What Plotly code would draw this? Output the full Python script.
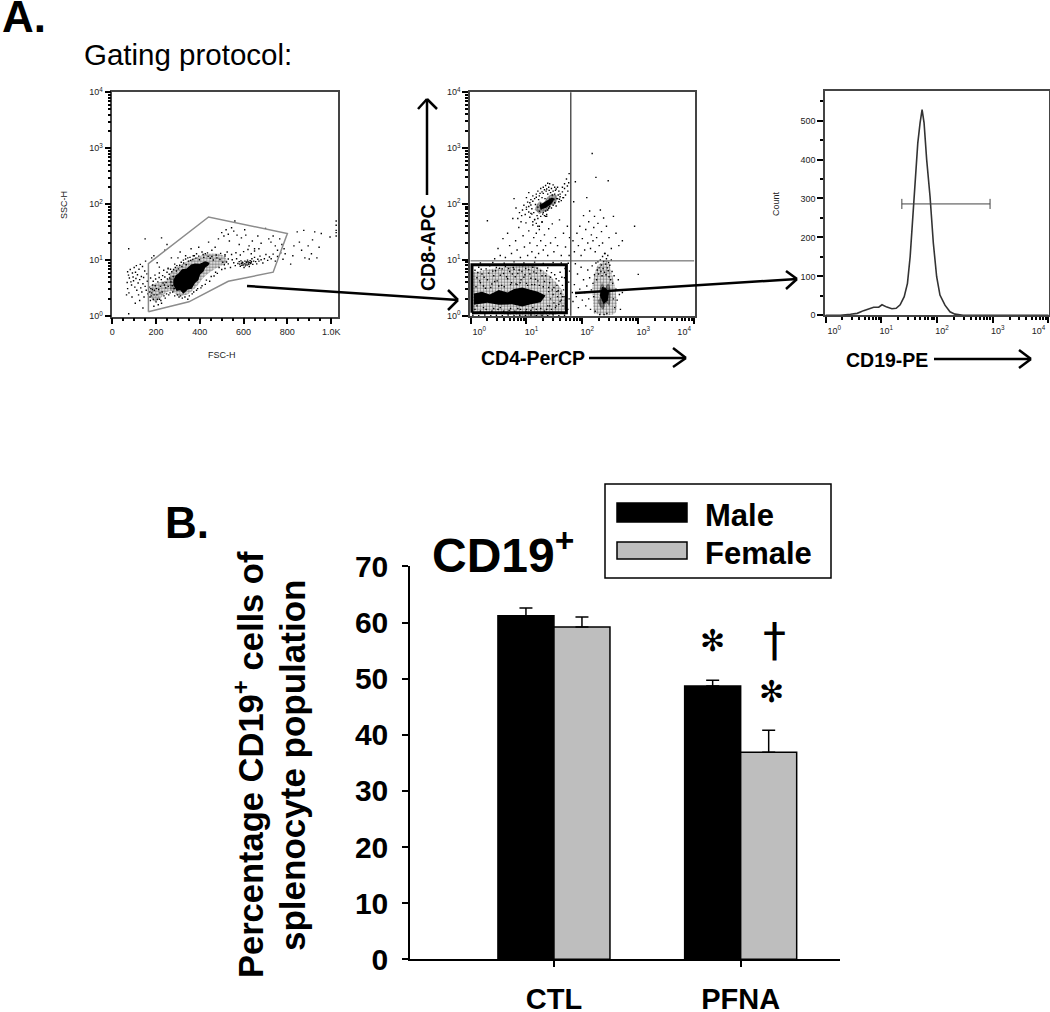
"""Gating protocol (A) and CD19+ percentages (B)."""

import plotly.graph_objects as go

W, H = 1050, 1012
FUENTE = "Liberation Sans"

# --- A, panel 1: FSC-H / SSC-H, events
GATE_FSC = [165, 165, 440, 800, 735, 530, 350, 165]
GATE_SSC = [1.2, 8.7, 59, 30, 6.1, 4.2, 1.8, 1.2]
CORE_FSC = [279, 290, 302, 318, 340, 360, 378, 400, 424, 445, 440, 425, 416, 402, 393, 378, 363, 345, 325, 310, 294, 279]
CORE_SSC = [4.4, 5.4, 5.8, 6.9, 7.1, 8.4, 8.7, 8.6, 9.6, 9.0, 8.1, 7.4, 6.2, 5.6, 4.4, 3.9, 3.1, 3.0, 2.5, 2.9, 2.8, 3.6]
HALO_FSC = [265, 265, 320, 380, 440, 500, 525, 470, 420, 380, 340, 300]
HALO_SSC = [3.0, 5.8, 8.5, 11, 13, 12.5, 9.5, 7.0, 5.0, 3.2, 2.4, 2.3]
BAND_FSC = [170, 200, 250, 290, 290, 250, 220, 195, 172]
BAND_SSC = [3.4, 3.9, 4.4, 5.4, 3.0, 2.7, 2.1, 1.8, 2.2]
FSC_SPARSE = [
    (70, 6.2), (74, 5.4), (78, 4.8), (82, 6.8), (85, 4.1), (88, 3.6), (92, 5.9), (95, 5.0),
    (97, 4.3), (100, 7.4), (103, 3.3), (106, 6.1), (108, 4.7), (110, 8.0), (112, 2.9),
    (115, 5.5), (118, 3.9), (120, 2.4), (122, 6.9), (125, 4.5), (128, 8.4), (130, 3.2),
    (133, 5.1), (135, 2.7), (138, 7.7), (140, 3.8), (143, 4.9), (145, 2.2), (148, 6.4),
    (150, 3.4), (152, 9.6), (155, 2.9), (158, 5.7), (160, 4.2), (162, 2.5), (70, 3.1),
    (65, 2.4), (68, 4.0), (76, 2.6), (90, 2.2), (105, 1.7), (125, 1.9), (75, 1.1), (75, 16),
    (140, 1.4), (150, 24), (180, 11), (190, 12), (205, 9), (215, 7.5), (225, 25), (240, 15),
    (250, 19), (255, 7), (270, 11), (285, 8.5), (300, 11), (310, 14), (325, 10), (335, 12),
    (345, 11), (360, 16), (370, 12), (385, 13), (395, 17), (410, 14), (425, 13), (440, 21),
    (455, 15), (470, 17), (485, 24), (500, 31), (510, 27), (520, 35), (530, 29), (535, 22),
    (545, 38), (555, 33), (560, 50), (570, 28), (580, 19), (590, 25), (605, 35), (610, 28),
    (625, 18), (640, 22), (650, 16), (665, 27), (680, 20), (700, 37), (715, 24), (725, 21),
    (735, 27), (745, 18), (755, 15), (765, 24), (775, 19), (785, 16), (790, 13), (815, 8.5),
    (825, 12), (830, 18), (845, 32), (855, 21), (865, 15), (875, 34), (880, 11), (895, 18),
    (900, 10.5), (910, 13), (915, 23), (925, 32), (935, 11), (945, 17), (955, 30), (995, 26),
    (1023, 27), (1023, 34), (1023, 42), (1023, 50), (1023, 31),
]
FSC_BAND = [
    (172, 2.2), (176, 3.1), (180, 2.6), (184, 3.6), (188, 2.0), (192, 2.9), (196, 3.5),
    (200, 1.8), (204, 2.4), (208, 4.1), (212, 3.0), (216, 2.0), (220, 3.4), (224, 4.5),
    (228, 2.7), (232, 3.9), (236, 2.3), (240, 5.0), (244, 3.2), (248, 2.5), (252, 4.6),
    (256, 3.4), (260, 5.6), (264, 2.6), (268, 4.1), (272, 6.2), (276, 2.7), (280, 6.8),
    (190, 1.5), (210, 1.6), (225, 1.7), (175, 4.8), (195, 5.4), (215, 5.9), (235, 6.6),
    (255, 7.2), (285, 2.3), (305, 2.2), (320, 2.1), (345, 2.0), (365, 2.5), (385, 2.9),
    (405, 3.2), (425, 3.7), (445, 4.2), (465, 5.2), (480, 5.8), (500, 6.8), (515, 7.1),
    (295, 8.0), (315, 9.2), (335, 10.5), (355, 11.2), (375, 12.0), (395, 11.8), (415, 12.6),
    (435, 13.5), (455, 11.6), (475, 12.4), (495, 13.2), (515, 11.8), (530, 10.5),
    (168, 3.3), (171, 2.7), (174, 1.9), (178, 2.3), (183, 3.0), (187, 4.2), (191, 2.4),
    (198, 4.6), (202, 3.1), (206, 2.0), (214, 4.9), (218, 2.6), (222, 1.9), (230, 5.3),
    (238, 3.6), (242, 2.1), (246, 4.0), (250, 6.1), (258, 2.4), (262, 4.8), (266, 6.9),
    (274, 3.5), (278, 5.1), (283, 3.1), (288, 7.4), (293, 6.4), (298, 2.4), (302, 7.0),
    (308, 8.1), (312, 2.3), (318, 7.7), (326, 8.9), (332, 2.2), (338, 8.3), (348, 9.6),
    (352, 2.3), (358, 9.9), (368, 10.3), (372, 2.7), (382, 10.9), (390, 3.1), (398, 10.2),
    (410, 3.5), (418, 11.2), (430, 4.4), (438, 11.7), (448, 10.8), (452, 5.1), (462, 10.1),
    (472, 6.1), (478, 11.0), (488, 7.4), (492, 10.3), (505, 9.2), (512, 8.3), (522, 9.3),
]
FSC_TAIL = [
    (530, 8.6), (540, 7.4), (548, 10.2), (555, 9.0), (562, 8.0), (568, 10.6), (574, 8.7),
    (580, 9.4), (585, 7.8), (590, 8.8), (595, 9.2), (598, 8.2), (602, 7.4), (606, 9.6),
    (610, 8.5), (614, 9.1), (618, 10.0), (622, 8.9), (626, 7.7), (630, 9.8), (634, 9.0),
    (638, 10.6), (642, 8.4), (646, 9.6), (650, 11.2), (655, 9.4), (660, 8.6), (665, 10.4),
    (670, 9.6), (675, 11.8), (680, 10.2), (688, 8.9), (695, 10.6), (702, 12.6), (710, 9.9),
    (718, 11.4), (726, 10.6), (735, 12.8), (745, 9.6), (755, 11.6), (770, 13.5), (780, 10.4),
    (515, 12.5), (525, 14.0), (545, 12.6), (565, 13.6), (585, 12.4), (600, 14.2), (620, 15.5),
    (635, 13.0), (650, 14.6), (670, 16.0), (582, 8.5), (588, 9.7), (592, 8.1), (596, 8.9),
    (604, 8.6), (608, 7.9), (612, 9.3), (616, 8.2), (620, 9.4), (624, 8.4), (628, 9.1),
    (632, 8.7), (636, 9.5),
]

# --- A, panel 2: CD4-PerCP / CD8-APC
QUAD_CD4 = 62
QUAD_CD8 = 9.6
RECT_CD4 = [1.06, 51.8, 51.8, 1.06, 1.06]
RECT_CD8 = [1.13, 1.13, 8.2, 8.2, 1.13]
LOW_CORE_CD4 = [1.15, 1.6, 2.2, 3.2, 4.6, 6, 8.4, 12, 16, 22, 20, 18, 12, 8.4, 5.5, 3.2, 2, 1.15]
LOW_CORE_CD8 = [2.5, 2.7, 2.4, 2.9, 2.6, 3.0, 3.2, 2.9, 2.7, 2.3, 2.0, 1.75, 1.6, 1.47, 1.6, 1.57, 1.7, 1.57]
LOW_HALO_CD4 = [1.1, 46, 46, 30, 15, 5, 1.1]
LOW_HALO_CD8 = [1.2, 1.2, 2.5, 4.5, 7.5, 7.5, 6]
RIGHT_CORE_CD4 = [225, 255, 290, 320, 300, 270, 235, 190, 210, 200]
RIGHT_CORE_CD8 = [4.0, 3.2, 3.8, 2.7, 1.5, 1.7, 1.3, 1.8, 2.2, 2.8]
RIGHT_DARK_CD4 = [225, 265, 300, 285, 240, 205]
RIGHT_DARK_CD8 = [3.3, 3.1, 2.6, 1.9, 1.6, 2.3]
RIGHT_HALO_CD4 = [160, 380, 400, 330, 280, 190, 150]
RIGHT_HALO_CD8 = [1.1, 1.1, 2.5, 6, 9.5, 8, 3]
CD8_CORE_CD4 = [14, 17, 20, 24, 30, 35, 33, 28, 24, 20, 17]
CD8_CORE_CD8 = [80, 110, 105, 135, 150, 140, 100, 95, 76, 72, 66]
CD8_DARK_CD4 = [17, 22, 28, 32, 28, 22, 18]
CD8_DARK_CD8 = [95, 110, 130, 125, 100, 85, 80]
CD4_LOW = [
    (1.2, 6.5), (1.3, 4.8), (1.4, 7.4), (1.5, 3.9), (1.6, 5.6), (1.7, 3.4), (1.9, 6.9),
    (2.0, 4.4), (2.2, 7.8), (2.4, 3.7), (2.6, 5.2), (2.8, 6.4), (3.0, 4.2), (3.3, 7.1),
    (3.6, 3.5), (3.9, 5.7), (4.2, 7.6), (4.6, 4.6), (5.0, 6.2), (5.4, 3.9), (5.8, 7.3),
    (6.3, 5.0), (6.8, 3.6), (7.4, 6.6), (8.0, 4.4), (8.7, 7.9), (9.4, 5.4), (10, 3.8),
    (11, 6.7), (12, 4.7), (13, 7.4), (14, 3.6), (15, 5.8), (16, 4.2), (18, 6.4), (20, 3.3),
    (22, 5.2), (24, 7.2), (26, 3.9), (28, 5.9), (31, 3.2), (34, 4.6), (37, 2.8), (40, 6.0),
    (44, 3.5), (47, 2.2), (49, 7.0), (42, 1.9), (38, 1.6), (33, 1.4), (28, 1.3), (24, 1.5),
    (21, 1.2), (45, 1.5), (48, 4.8), (36, 2.2), (30, 2.4), (25, 2.7), (1.2, 1.3), (1.5, 1.2),
    (1.9, 1.3), (2.4, 1.2), (3.1, 1.3), (3.9, 1.2), (4.9, 1.25), (6.2, 1.2), (7.8, 1.3),
    (9.8, 1.2), (12, 1.25), (15, 1.3), (1.1, 1.02), (1.4, 1.0), (1.8, 1.03), (2.3, 1.0),
    (2.9, 1.02), (3.7, 1.0), (4.7, 1.03), (6.0, 1.0), (7.6, 1.02), (9.6, 1.0), (12, 1.03),
    (15, 1.0), (19, 1.02), (24, 1.0), (30, 1.03), (38, 1.0), (48, 1.02), (57, 4.0), (58, 2.0),
    (55, 1.3), (59, 6.3), (56, 8.7), (1.5, 8.8), (2.5, 9.0), (4.0, 8.7), (6.0, 9.2), (9.0, 8.8),
    (14, 9.1), (20, 8.6), (30, 9.0), (42, 8.8),
    (1.25, 3.3), (1.35, 5.9), (1.45, 4.2), (1.55, 6.8), (1.75, 4.9), (1.85, 3.1), (2.1, 5.8),
    (2.3, 3.2), (2.5, 6.3), (2.7, 4.1), (2.9, 7.3), (3.2, 3.4), (3.4, 5.3), (3.7, 6.9),
    (4.0, 3.3), (4.4, 5.0), (4.8, 7.0), (5.2, 3.6), (5.6, 5.6), (6.0, 6.8), (6.5, 3.7),
    (7.0, 5.7), (7.7, 3.9), (8.3, 6.2), (9.0, 4.9), (9.7, 7.0), (10.5, 3.5), (11.5, 5.6),
    (12.5, 3.6), (13.5, 6.1), (14.5, 4.5), (15.5, 7.1), (17, 3.5), (19, 5.2), (21, 4.1),
    (23, 6.4), (25, 3.2), (27, 4.9), (29, 2.9), (32, 5.4), (35, 3.5), (38, 4.2), (41, 2.5),
    (43, 4.9), (46, 2.9), (40, 1.8), (35, 2.7), (31, 1.7), (27, 2.0), (34, 1.5), (44, 2.2),
    (26, 1.5), (23, 1.3), (18, 1.35), (13, 1.4), (10, 1.3), (7, 1.35), (5.2, 1.35), (3.4, 1.4),
    (2.6, 1.35), (1.7, 1.4), (1.3, 1.5),
]
CD4_UPPER = [
    (2, 50), (2.7, 10.5), (3.1, 16), (3.4, 12), (3.8, 24), (4.2, 11), (4.6, 30), (5.0, 18),
    (5.4, 13), (5.7, 55), (6.0, 125), (6.4, 22), (6.8, 15), (7.3, 38), (7.8, 11), (8.2, 62),
    (8.7, 27), (9.2, 17), (9.8, 46), (10, 80), (10.5, 12), (11, 33), (11.5, 20), (12, 68),
    (12.5, 14), (13, 42), (13.5, 25), (14, 53), (14.5, 11), (15, 30), (15.5, 18), (16, 40),
    (16.5, 13), (17, 35), (18, 22), (19, 47), (20, 15), (21, 28), (22, 18), (23, 60), (24, 12),
    (25, 36), (27, 20), (29, 44), (31, 14), (33, 25), (36, 18), (39, 52), (42, 12), (46, 30),
    (50, 17), (54, 40), (57, 240), (58, 350), (55, 170), (45, 130), (44, 200), (48, 230),
    (52, 280), (58, 12), (59, 25),
]
CD4_CD8_CLUSTER = [
    (8.5, 78), (9, 95), (9.5, 65), (10, 88), (10.5, 108), (11, 72), (11.5, 58), (12, 96),
    (12, 120), (12.5, 66), (13, 140), (13, 48), (14, 125), (14, 52), (15, 150), (15, 45),
    (16, 170), (16, 55), (17, 140), (17, 40), (18, 190), (18, 60), (19, 165), (19, 48),
    (20, 200), (20, 70), (21, 180), (21, 62), (22, 215), (22, 75), (23, 185), (23, 65),
    (24, 235), (24, 78), (25, 200), (26, 90), (26, 230), (28, 190), (28, 85), (30, 220),
    (30, 95), (32, 200), (32, 105), (34, 185), (34, 92), (36, 200), (36, 125), (38, 170),
    (38, 110), (40, 150), (40, 135), (42, 115), (44, 165), (46, 130), (48, 190), (50, 145),
    (54, 210), (10, 130), (11, 160), (7.5, 70), (6.5, 85), (7, 55), (8, 48),
    (11, 90), (11.5, 105), (12.5, 82), (13, 112), (13.5, 70), (14.5, 98), (15, 132), (15.5, 62),
    (16, 88), (16.5, 120), (17, 74), (17.5, 155), (18, 100), (18.5, 82), (19, 130), (19.5, 66),
    (20, 155), (21, 92), (21.5, 125), (22, 60), (22.5, 170), (23, 108), (24, 150), (25, 84),
    (25.5, 175), (26, 122), (27, 160), (28, 112), (29, 145), (30, 170), (31, 120), (32, 150),
    (33, 175), (35, 125), (37, 145), (39, 122),
]
CD4_RIGHT = [
    (66, 2.6), (68, 1.8), (72, 3.6), (75, 8.5), (78, 2.2), (82, 5.6), (85, 1.4), (90, 3.0),
    (95, 7.4), (100, 1.9), (105, 4.4), (110, 2.6), (115, 1.5), (120, 3.4), (125, 6.6), (130, 2.0),
    (135, 4.8), (140, 1.3), (145, 2.9), (150, 7.8), (155, 3.8), (160, 2.2), (165, 5.4), (170, 1.2),
    (175, 8.8), (180, 4.4), (185, 6.6), (190, 9.2), (195, 5.6), (200, 7.2), (205, 1.05), (210, 10),
    (215, 6.2), (220, 8.1), (225, 5.2), (230, 11.5), (235, 7.0), (240, 9.4), (245, 1.05), (250, 6.0),
    (255, 13), (260, 8.4), (265, 5.4), (270, 10.5), (275, 1.1), (280, 7.2), (285, 12), (290, 6.4),
    (295, 9), (300, 5.0), (310, 8), (320, 4.4), (330, 10), (340, 6.2), (350, 3.8), (360, 2.0),
    (370, 5.2), (380, 1.4), (400, 3.0), (420, 1.9), (440, 4.4), (460, 2.4), (480, 1.3), (520, 2.6),
    (1000, 5.5),
    (68, 22), (70, 110), (72, 14), (75, 250), (80, 30), (85, 18), (90, 40), (95, 12), (100, 24),
    (105, 62), (110, 15), (115, 35), (120, 130), (125, 20), (130, 48), (135, 75), (140, 16),
    (145, 28), (150, 800), (155, 22), (160, 38), (165, 60), (170, 14), (175, 300), (180, 25),
    (190, 45), (200, 18), (210, 78), (220, 32), (230, 20), (240, 56), (250, 13), (270, 40),
    (290, 260), (300, 25), (330, 16), (360, 60), (400, 30), (450, 18), (520, 22), (860, 40),
]

# --- A, panel 3: CD19-PE histogram
CD19_PE = [1.0, 1.85, 2.8, 3.7, 4.8, 5.9, 7.3, 9.0, 10.3, 12.6, 15.5, 18.5, 21.8, 25.8, 29.5,
           33, 36.8, 40.5, 45.2, 49.7, 54, 58.6, 65.3, 75, 86, 98.6, 113, 139, 171, 210, 295, 10000]
COUNT = [0, 0, 2.6, 5, 12, 15.4, 20.5, 21, 27, 21, 17, 18, 27, 48, 82, 151, 262, 348, 442, 494,
         528, 494, 399, 305, 185, 99, 52, 26, 9, 3, 0, 0]
MARKER_CD19 = [23.4, 23.4, None, 23.4, 896, None, 896, 896]
MARKER_COUNT = [273, 299, None, 286, 286, None, 273, 299]

# --- B: bars
GRUPOS = ["CTL", "PFNA"]
MALE = [61.2, 48.7]
FEMALE = [59.2, 36.9]
MALE_ERR = [1.4, 1.0]
FEMALE_ERR = [1.8, 3.9]
Y_TICKS = [0, 10, 20, 30, 40, 50, 60, 70]

DECADAS = [1, 10, 100, 1000, 10000]
ETIQ_DECADAS = ["10<sup>0</sup>", "10<sup>1</sup>", "10<sup>2</sup>", "10<sup>3</sup>", "10<sup>4</sup>"]
# the cytometer software nudges its x labels off the ticks
NB = "\u00a0"
ETIQ_X = [NB * 7 + ETIQ_DECADAS[0], NB * 4 + ETIQ_DECADAS[1], NB * 4 + ETIQ_DECADAS[2],
          NB * 4 + ETIQ_DECADAS[3], ETIQ_DECADAS[4] + NB * 8]
MENORES = [d * m for d in DECADAS[:-1] for m in range(2, 10)]


def dom_x(izq, der):
    return [izq / W, der / W]


def dom_y(arriba, abajo):
    return [1 - abajo / H, 1 - arriba / H]


def eje_citometro(dominio, ancla, **extra):
    eje = dict(domain=dominio, anchor=ancla, showgrid=False, zeroline=False, showline=True,
               linecolor="#444", linewidth=1.5, mirror=True, ticks="outside", ticklen=6,
               tickwidth=1.5, tickcolor="black", automargin=False, ticklabeloverflow="allow",
               tickfont=dict(family=FUENTE, size=9, color="#222"))
    eje.update(extra)
    return eje


def eje_log(dominio, ancla, etiquetas=ETIQ_DECADAS):
    return eje_citometro(dominio, ancla, type="log", range=[-0.01, 4.01], tickvals=DECADAS,
                         ticktext=etiquetas,
                         minor=dict(tickvals=MENORES, ticks="outside", ticklen=3, tickcolor="black"))


def puntos(eventos, xa, ya):
    xs, ys = zip(*eventos)
    return go.Scatter(x=xs, y=ys, xaxis=xa, yaxis=ya, mode="markers", hoverinfo="skip",
                      marker=dict(symbol="square", size=1.4, color="black", line_width=0))


def mancha(xs, ys, xa, ya):
    return go.Scatter(x=xs, y=ys, xaxis=xa, yaxis=ya, mode="lines", fill="toself", hoverinfo="skip",
                      fillcolor="black", line=dict(width=0))


def punteado(xs, ys, xa, ya, densidad):
    return go.Scatter(x=xs, y=ys, xaxis=xa, yaxis=ya, mode="lines", fill="toself", hoverinfo="skip",
                      fillcolor="rgba(0,0,0,0)", line=dict(width=0, shape="spline"),
                      fillpattern=dict(shape=".", size=3, solidity=densidad, fgcolor="black",
                                       bgcolor="rgba(0,0,0,0)"))


fig = go.Figure()

# panel 1
fig.add_trace(punteado(BAND_FSC, BAND_SSC, "x", "y", 0.55))
fig.add_trace(punteado(HALO_FSC, HALO_SSC, "x", "y", 0.55))
fig.add_trace(mancha(CORE_FSC, CORE_SSC, "x", "y"))
for eventos in (FSC_SPARSE, FSC_BAND, FSC_TAIL):
    fig.add_trace(puntos(eventos, "x", "y"))
fig.add_trace(go.Scatter(x=GATE_FSC, y=GATE_SSC, xaxis="x", yaxis="y", mode="lines",
                         line=dict(color="#8c8c8c", width=1.5), hoverinfo="skip"))

# panel 2
fig.add_trace(punteado(LOW_HALO_CD4, LOW_HALO_CD8, "x2", "y2", 0.5))
fig.add_trace(mancha(LOW_CORE_CD4, LOW_CORE_CD8, "x2", "y2"))
fig.add_trace(punteado(RIGHT_HALO_CD4, RIGHT_HALO_CD8, "x2", "y2", 0.5))
fig.add_trace(punteado(RIGHT_CORE_CD4, RIGHT_CORE_CD8, "x2", "y2", 0.85))
fig.add_trace(mancha(RIGHT_DARK_CD4, RIGHT_DARK_CD8, "x2", "y2"))
fig.add_trace(punteado(CD8_CORE_CD4, CD8_CORE_CD8, "x2", "y2", 0.8))
fig.add_trace(mancha(CD8_DARK_CD4, CD8_DARK_CD8, "x2", "y2"))
for eventos in (CD4_LOW, CD4_UPPER, CD4_CD8_CLUSTER, CD4_RIGHT):
    fig.add_trace(puntos(eventos, "x2", "y2"))
fig.add_trace(go.Scatter(x=[QUAD_CD4, QUAD_CD4], y=[1, 10000], xaxis="x2", yaxis="y2", mode="lines",
                         line=dict(color="#555", width=1.5), hoverinfo="skip"))
fig.add_trace(go.Scatter(x=[1, 10000], y=[QUAD_CD8, QUAD_CD8], xaxis="x2", yaxis="y2", mode="lines",
                         line=dict(color="#555", width=1), hoverinfo="skip"))
fig.add_trace(go.Scatter(x=RECT_CD4, y=RECT_CD8, xaxis="x2", yaxis="y2", mode="lines",
                         line=dict(color="black", width=3), hoverinfo="skip"))

# panel 3
fig.add_trace(go.Scatter(x=CD19_PE, y=COUNT, xaxis="x3", yaxis="y3", mode="lines",
                         line=dict(color="#333", width=1.6), hoverinfo="skip"))
fig.add_trace(go.Scatter(x=MARKER_CD19, y=MARKER_COUNT, xaxis="x3", yaxis="y3", mode="lines",
                         line=dict(color="#444", width=1), hoverinfo="skip"))

# B
fig.add_trace(go.Bar(x=GRUPOS, y=MALE, name="Male", xaxis="x4", yaxis="y4",
                     marker=dict(color="black", line=dict(color="black", width=1.5)),
                     error_y=dict(type="data", array=MALE_ERR, symmetric=False, arrayminus=[0, 0],
                                  color="black", thickness=1.5, width=6.5)))
fig.add_trace(go.Bar(x=GRUPOS, y=FEMALE, name="Female", xaxis="x4", yaxis="y4",
                     marker=dict(color="#BEBEBE", line=dict(color="black", width=1.5)),
                     error_y=dict(type="data", array=FEMALE_ERR, symmetric=False, arrayminus=[0, 0],
                                  color="black", thickness=1.5, width=6.5)))

formas = []


def linea(x0, y0, x1, y1, ancho=2.5, color="black"):
    formas.append(dict(type="line", xref="paper", yref="paper", x0=x0 / W, x1=x1 / W,
                       y0=1 - y0 / H, y1=1 - y1 / H, line=dict(color=color, width=ancho)))


def flecha(x0, y0, x1, y1, ala1, ala2):
    linea(x0, y0, x1, y1)
    linea(ala1[0], ala1[1], x1, y1)
    linea(ala2[0], ala2[1], x1, y1)


flecha(247, 286, 458, 300, (448, 290), (448, 310))
flecha(427, 195, 427, 99, (418, 109), (437, 109))
flecha(589, 358, 686, 358, (673, 348), (673, 367))
flecha(575, 293, 797, 279, (786, 271), (786, 289))
flecha(934, 359, 1031, 359, (1019, 350), (1019, 368))


def caja(x0, y0, x1, y1, relleno, ancho=1.5):
    formas.append(dict(type="rect", xref="paper", yref="paper", x0=x0 / W, x1=x1 / W,
                       y0=1 - y0 / H, y1=1 - y1 / H, fillcolor=relleno,
                       line=dict(color="black", width=ancho)))


caja(605, 484, 831, 578, "white")
caja(617, 503, 687, 522, "black")
caja(617, 542, 687, 559, "#BEBEBE")

textos = []


def texto(s, x, y, size, bold=False, xanchor="left", family=FUENTE, angle=0, color="black"):
    contenido = f"<b>{s}</b>" if bold else s
    textos.append(dict(text=contenido, xref="paper", yref="paper", x=x / W, y=1 - y / H,
                       xanchor=xanchor, yanchor="middle", showarrow=False, textangle=angle,
                       font=dict(family=family, size=size, color=color)))


texto("A.", 0, 16, 44, bold=True)
texto("Gating protocol:", 82, 54, 29.5)
texto("B.", 163, 522, 44, bold=True)
texto("FSC-H", 222, 355, 9, xanchor="center", color="#222")
texto("SSC-H", 64, 205, 9, xanchor="center", angle=-90, color="#222")
texto("Count", 776, 204, 9, xanchor="center", angle=-90, color="#222")
texto("CD8-APC", 428, 248, 19.5, bold=True, xanchor="center", angle=-90)
texto("CD4-PerCP", 533, 358, 19.5, bold=True, xanchor="center")
texto("CD19-PE", 887, 360, 19.5, bold=True, xanchor="center")
texto("CD19<sup>+</sup>", 430, 552, 48, bold=True)
texto("Male", 703, 515, 31, bold=True)
texto("Female", 703, 553, 31, bold=True)
texto("Percentage CD19<sup>+</sup> cells of", 248, 765, 34.5, bold=True, xanchor="center", angle=-90)
texto("splenocyte population", 292, 766, 35, bold=True, xanchor="center", angle=-90)
texto("✻", 712, 640, 30, xanchor="center", family="DejaVu Sans")
texto("✻", 771, 691, 30, xanchor="center", family="DejaVu Sans")
texto("†", 774, 640, 46, xanchor="center", family="DejaVu Sans")

fig.update_layout(
    width=W, height=H, margin=dict(l=0, r=0, t=0, b=0, autoexpand=False),
    paper_bgcolor="white", plot_bgcolor="white",
    showlegend=False, barmode="group", bargap=0.4, bargroupgap=0,
    shapes=formas, annotations=textos,
    xaxis=eje_citometro(dom_x(112.3, 337.7), "y", range=[0, 1030], tickvals=[0, 200, 400, 600, 800, 1000],
                        ticktext=["0", "200", "400", "600", "800", "1.0K"],
                        minor=dict(dtick=50, ticks="outside", ticklen=3, tickcolor="black")),
    yaxis=eje_log(dom_y(91.7, 316.7), "x"),
    xaxis2=eje_log(dom_x(470, 694.7), "y2", ETIQ_X),
    yaxis2=eje_log(dom_y(91.7, 316.3), "x2"),
    xaxis3=eje_log(dom_x(825, 1049), "y3", ETIQ_X),
    yaxis3=eje_citometro(dom_y(91, 315.3), "x3", range=[0, 576], tickvals=[0, 100, 200, 300, 400, 500],
                         minor=dict(dtick=50, ticks="outside", ticklen=3, tickcolor="black")),
    xaxis4=dict(domain=dom_x(410, 840), anchor="y4", type="category", categoryorder="array",
                categoryarray=GRUPOS, range=[-0.771, 1.532], showline=True, linecolor="black", linewidth=2,
                showgrid=False, ticks="outside", ticklen=6, tickwidth=1.5, tickcolor="black", automargin=False,
                ticklabelstandoff=7, tickfont=dict(family=FUENTE, size=29, color="black", weight="bold")),
    yaxis4=dict(domain=dom_y(566.4, 959.3), anchor="x4", range=[0, 70], tickvals=Y_TICKS, showline=True,
                linecolor="black", linewidth=1.5, showgrid=False, zeroline=False, ticks="outside", ticklen=6,
                tickwidth=1.5, tickcolor="black", ticklabelstandoff=8, automargin=False,
                tickfont=dict(family=FUENTE, size=30, color="black", weight="bold")),
)

# the page's default body margin would shift everything by 8 px
fig.write_html("out.html", config={"displayModeBar": False},
               post_script="document.body.style.margin = '0';")
